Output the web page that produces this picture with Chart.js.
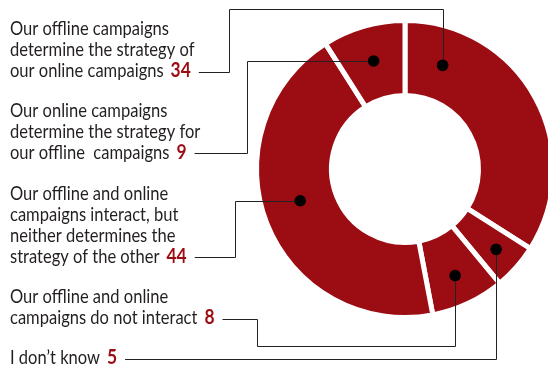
<!DOCTYPE html>
<html>
<head>
<meta charset="utf-8">
<script src="https://cdn.jsdelivr.net/npm/chart.js@4.4.1/dist/chart.umd.min.js"></script>
<style>
  html, body { margin: 0; padding: 0; background: #fff; overflow: hidden; }
  #wrap { width: 548px; height: 366px; overflow: hidden; position: relative; }
  #survey { position: absolute; left: 0; top: 0; }
</style>
</head>
<body>
<div id="wrap"><canvas id="survey" width="600" height="366"></canvas></div>
<script>
// answers in the order they are listed, top to bottom
const answers = [
  ["Our offline campaigns", "determine the strategy of", "our online campaigns"],
  ["Our online campaigns", "determine the strategy for", "our offline  campaigns"],
  ["Our offline and online", "campaigns interact, but", "neither determines the", "strategy of the other"],
  ["Our offline and online", "campaigns do not interact"],
  ["I don\u2019t know"]
];
const shares = [34, 9, 44, 8, 5];
// clockwise from twelve o'clock
const ringOrder = [0, 4, 3, 2, 1];

const RED = "#9c0c13";
const INK = "#231f20";
const FONT = "Lato, 'Open Sans', sans-serif";
const TEXT_SX = 0.87;

// label blocks: first baseline, where the leader turns, optional rail, dot spot on the ring
const labelLayout = [
  { y: 35, elbowX: 229, railY: 8.5, dotAt: 0.163, ringAt: 0.49 },
  { y: 116.5, elbowX: 247, railY: null, dotAt: 0.5, ringAt: 0.52 },
  { y: 199.5, elbowX: 235, railY: null, dotAt: 0.53, ringAt: 0.48 },
  { y: 303, elbowX: 257, railY: 345.5, dotAt: 0.5, ringAt: 0.59 },
  { y: 364, elbowX: null, railY: null, dotAt: 0.5, ringAt: 0.64 }
];
const LINE_H = 21;

const px = (v) => Math.round(v) + 0.5;

const callouts = {
  id: "callouts",
  afterDraw(chart) {
    const ctx = chart.ctx;
    const arcs = chart.getDatasetMeta(0).data;
    ctx.save();
    answers.forEach((lines, i) => {
      const lay = labelLayout[i];
      const arc = arcs[ringOrder.indexOf(i)];
      const p = arc.getProps(["x", "y", "startAngle", "endAngle", "innerRadius", "outerRadius"], true);
      const a = p.startAngle + (p.endAngle - p.startAngle) * lay.dotAt;
      const r = p.innerRadius + (p.outerRadius - p.innerRadius) * lay.ringAt;
      const dotX = p.x + Math.cos(a) * r;
      const dotY = p.y + Math.sin(a) * r;

      // text lines, condensed
      let endX = 10;
      lines.forEach((line, k) => {
        const base = lay.y + k * LINE_H;
        ctx.font = "19px " + FONT;
        ctx.fillStyle = INK;
        ctx.textBaseline = "alphabetic";
        ctx.save();
        ctx.translate(10, base);
        ctx.scale(TEXT_SX, 1);
        ctx.fillText(line, 0, 0);
        ctx.restore();
        if (k === lines.length - 1) {
          const w = ctx.measureText(line).width * TEXT_SX;
          const numX = 10 + w + 7;
          ctx.font = "bold 20px " + FONT;
          ctx.fillStyle = RED;
          ctx.save();
          ctx.translate(numX, base);
          ctx.scale(TEXT_SX, 1);
          ctx.fillText(String(shares[i]), 0, 0);
          ctx.restore();
          endX = numX + ctx.measureText(String(shares[i])).width * TEXT_SX;
        }
      });

      // leader line from the value to the dot
      const lastBase = lay.y + (lines.length - 1) * LINE_H;
      const y0 = lastBase - 5.5;
      const elbow = lay.elbowX === null ? dotX : lay.elbowX;
      const rail = lay.railY === null ? (lay.elbowX === null ? y0 : dotY) : lay.railY;
      ctx.beginPath();
      ctx.moveTo(endX + 8, px(y0));
      ctx.lineTo(px(elbow), px(y0));
      ctx.lineTo(px(elbow), px(rail));
      ctx.lineTo(px(dotX), px(rail));
      ctx.lineTo(px(dotX), dotY);
      ctx.lineTo(dotX, dotY);
      ctx.strokeStyle = "#222";
      ctx.lineWidth = 1;
      ctx.stroke();

      ctx.beginPath();
      ctx.arc(dotX, dotY, 5.8, 0, Math.PI * 2);
      ctx.fillStyle = "#000";
      ctx.fill();
    });
    ctx.restore();
  }
};

new Chart(document.getElementById("survey"), {
  type: "doughnut",
  data: {
    labels: ringOrder.map((i) => answers[i].join(" ")),
    datasets: [{
      data: ringOrder.map((i) => shares[i]),
      backgroundColor: RED,
      borderColor: "#fff",
      borderWidth: 5,
      hoverOffset: 0
    }]
  },
  options: {
    responsive: false,
    animation: false,
    events: [],
    cutout: "49.5%",
    layout: { padding: { left: 254, top: 18, right: 44, bottom: 46 } },
    plugins: { legend: { display: false }, tooltip: { enabled: false } }
  },
  plugins: [callouts]
});
</script>
</body>
</html>
